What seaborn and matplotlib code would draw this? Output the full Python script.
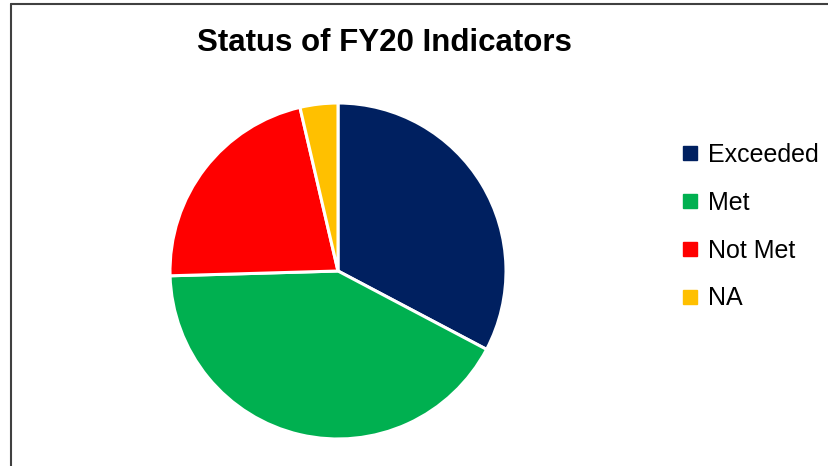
import matplotlib
matplotlib.use("Agg")
import matplotlib.pyplot as plt
from matplotlib.lines import Line2D
import seaborn as sns

# indicator counts
categories = ["Exceeded", "Met", "Not Met", "NA"]
counts = [18, 23, 12, 2]
colors = ["#002060", "#00B050", "#FF0000", "#FFC000"]
title = "Status of FY20 Indicators"

sns.set_theme(style="white")
plt.rcParams["font.family"] = ["Liberation Sans", "DejaVu Sans"]
plt.rcParams["text.color"] = "black"

W, H = 829, 466
fig = plt.figure(figsize=(W / 100, H / 100), dpi=100)

# pie centred at (338, 271) px, radius 168 px
cx, cy, r = 338, 271, 168
ax = fig.add_axes([(cx - r) / W, 1 - (cy + r) / H, 2 * r / W, 2 * r / H])
ax.pie(
    counts,
    colors=sns.color_palette(colors),
    startangle=90,
    counterclock=False,
    radius=1,
    wedgeprops={"edgecolor": "white", "linewidth": 2.2},
)
ax.set_xlim(-1, 1)
ax.set_ylim(-1, 1)
ax.set_aspect("auto")
ax.axis("off")

fig.text(384 / W, 1 - 43 / H, title, ha="center", va="center",
         fontsize=22.5, fontweight="bold", color="black")

handles = [
    Line2D([], [], marker="s", linestyle="none", markersize=9.4,
           markerfacecolor=c, markeredgecolor=c)
    for c in colors
]
leg = fig.legend(
    handles, categories,
    loc="upper left",
    bbox_to_anchor=(683 / W, 1 - 143 / H),
    frameon=False,
    fontsize=18,
    handlelength=0.6,
    handletextpad=0.4,
    labelspacing=0.95,
    borderaxespad=0,
    borderpad=0,
)
for t in leg.get_texts():
    t.set_color("black")

# chart-area frame: visible left and top edges
fig.add_artist(Line2D([11 / W, 11 / W], [0, 1 - 3.5 / H], transform=fig.transFigure,
                      color="#404040", linewidth=1.5))
fig.add_artist(Line2D([11 / W, 1], [1 - 3.5 / H, 1 - 3.5 / H], transform=fig.transFigure,
                      color="#404040", linewidth=1.5))

fig.savefig("out.png", dpi=100, facecolor="white")
plt.close(fig)
